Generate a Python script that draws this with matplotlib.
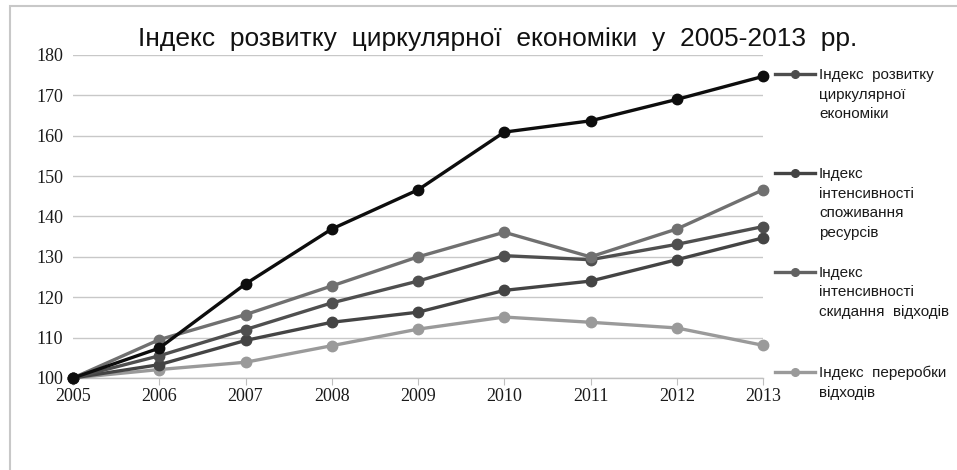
import matplotlib
matplotlib.use('Agg')
import matplotlib.pyplot as plt
from matplotlib.lines import Line2D
from matplotlib.patches import Rectangle

years = [2005, 2006, 2007, 2008, 2009, 2010, 2011, 2012, 2013]

circular = [100, 107.4, 123.3, 136.9, 146.6, 160.9, 163.7, 169.0, 174.7]
consumption = [100, 105.5, 112.0, 118.6, 124.0, 130.3, 129.3, 133.1, 137.5]
dumping = [100, 103.3, 109.3, 113.8, 116.3, 121.7, 124.0, 129.3, 134.7]
upper_gray = [100, 109.5, 115.7, 122.8, 130.0, 136.1, 130.0, 136.9, 146.6]
recycling = [100, 102.1, 103.9, 108.0, 112.1, 115.1, 113.8, 112.4, 108.1]

title = 'Індекс розвитку циркулярної економіки у 2005-2013 рр.'
legend_labels = [
    'Індекс розвитку\nциркулярної\nекономіки',
    'Індекс\nінтенсивності\nспоживання\nресурсів',
    'Індекс\nінтенсивності\nскидання відходів',
    'Індекс переробки\nвідходів',
]
legend_colors = ['#4d4d4d', '#444444', '#626262', '#9a9a9a']

W, H = 957, 470
fig = plt.figure(figsize=(W / 100, H / 100), dpi=100)
ax = fig.add_axes([73 / W, 1 - 378 / H, 690 / W, 323 / H])

# frame around chart area (runs off the right and bottom edge)
fig.patches.append(Rectangle((10 / W, -0.1), 1.2, 1 - 6 / H + 0.1,
                             transform=fig.transFigure, fill=False,
                             edgecolor='#c8c8c8', lw=1.5))

series = [
    (recycling, '#9a9a9a'),
    (dumping, '#444444'),
    (consumption, '#4f4f4f'),
    (upper_gray, '#707070'),
    (circular, '#0d0d0d'),
]
for vals, col in series:
    ax.plot(years, vals, color=col, lw=2.4, marker='o', markersize=7.5,
            clip_on=False, zorder=3)

ax.set_xlim(2005, 2013)
ax.set_ylim(100, 180)
ax.set_xticks(years)
ax.set_yticks(range(100, 181, 10))
ax.yaxis.grid(True, color='#c8c8c8', lw=1)
ax.set_axisbelow(True)
for s in ['top', 'right', 'left']:
    ax.spines[s].set_visible(False)
ax.spines['bottom'].set_color('#c0c0c0')
ax.spines['bottom'].set_linewidth(1)
ax.tick_params(axis='y', length=0, pad=7)
ax.tick_params(axis='x', length=5, color='#c0c0c0', pad=2)
for lab in ax.get_xticklabels() + ax.get_yticklabels():
    lab.set_fontfamily('Liberation Serif')
    lab.set_fontsize(13)
    lab.set_color('#1a1a1a')

# Excel-style wide word spacing
fig.text(498 / W, 1 - 39 / H, title.replace(' ', '  '), ha='center',
         va='center', fontsize=19, family='Liberation Sans', color='#111111')

# legend keys aligned with first line of each label
key_y = [74, 173, 272, 372]
for lab, col, ky in zip(legend_labels, legend_colors, key_y):
    fig.add_artist(Line2D([775 / W, 815 / W], [1 - ky / H, 1 - ky / H],
                          transform=fig.transFigure, color=col, lw=2.4))
    fig.add_artist(Line2D([795 / W], [1 - ky / H], transform=fig.transFigure,
                          color=col, marker='o', markersize=5.5))
    fig.text(819 / W, 1 - (ky - 6) / H, lab.replace(' ', '  '), ha='left',
             va='top', fontsize=11, family='Liberation Sans',
             color='#1a1a1a', linespacing=1.5)

fig.savefig('out.png', dpi=100)
